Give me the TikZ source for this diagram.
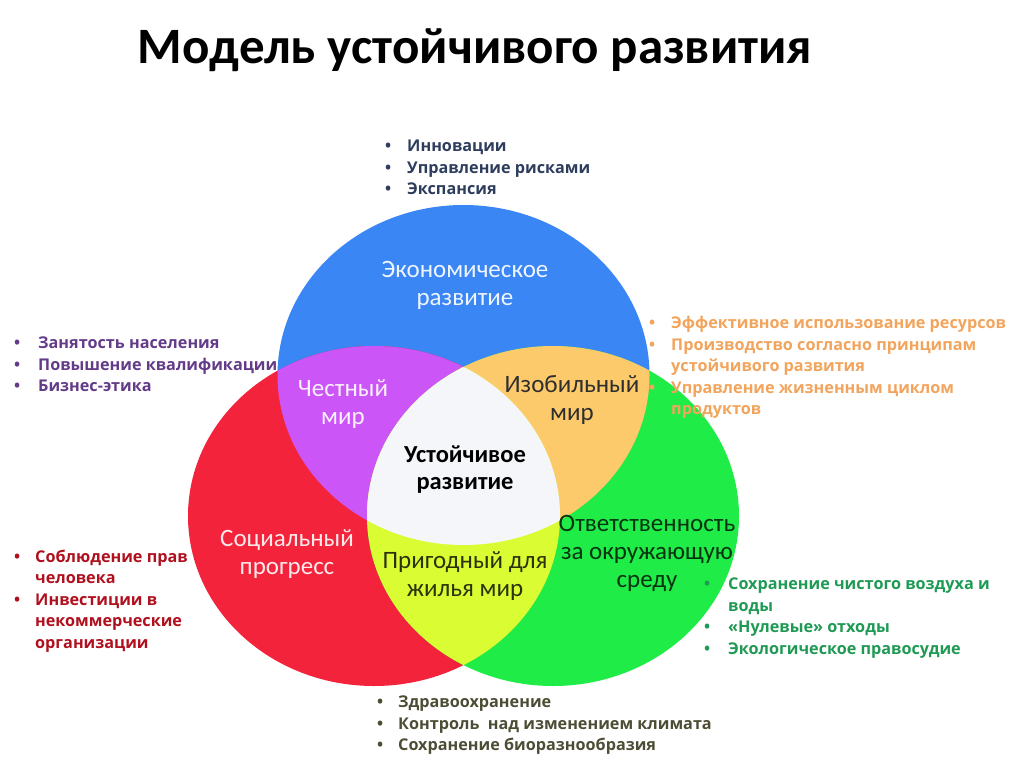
\documentclass[tikz,border=0pt]{standalone}
\usepackage{fontspec}
\setmainfont{Carlito}
\newfontfamily\listfont{Open Sans}
\usepackage{xcolor}
\usepackage{tikz}
\usetikzlibrary{positioning}
\definecolor{ecoBlue}{HTML}{3A86F5}
\definecolor{socRed}{HTML}{F3233B}
\definecolor{envGreen}{HTML}{20EC47}
\definecolor{fairPurple}{HTML}{CB55F6}
\definecolor{richOrange}{HTML}{FCC96B}
\definecolor{liveYellow}{HTML}{DAFC33}
\definecolor{coreWhite}{HTML}{F4F6FA}
\definecolor{txtNavy}{HTML}{2E3D5E}
\definecolor{txtPurple}{HTML}{633B88}
\definecolor{txtOrange}{HTML}{F2A45C}
\definecolor{txtRed}{HTML}{B0101E}
\definecolor{txtGreen}{HTML}{1F9A55}
\definecolor{txtOlive}{HTML}{4D4D36}
\newcommand{\econpath}{(463.5,375) ellipse [x radius=186, y radius=170]}
\newcommand{\socpath}{(374,516) ellipse [x radius=186, y radius=170]}
\newcommand{\envpath}{(553,516) ellipse [x radius=186, y radius=170]}
\newcommand{\bul}[1][22pt]{\makebox[#1][l]{\textbullet}}

\begin{document}
\begin{tikzpicture}[x=1pt,y=-1pt,
    zone/.style={align=center, inner sep=0pt, font=\fontsize{25}{28}\selectfont},
    facts/.style={align=left, anchor=base west, inner sep=0pt,
      font=\listfont\bfseries\fontsize{16.2}{21.5}\selectfont}]
    \useasboundingbox (0,0) rectangle (1024,768);

    % three circles
    \fill[ecoBlue]  \econpath;
    \fill[socRed]   \socpath;
    \fill[envGreen] \envpath;
    % pairwise overlaps
    \begin{scope}
        \clip \socpath;
        \fill[fairPurple] \econpath;
    \end{scope}
    \begin{scope}
        \clip \envpath;
        \fill[richOrange] \econpath;
    \end{scope}
    \begin{scope}
        \clip \socpath;
        \fill[liveYellow] \envpath;
    \end{scope}
    % centre
    \begin{scope}
        \clip \socpath;
        \clip \envpath;
        \fill[coreWhite] \econpath;
    \end{scope}

    \node (title) at (475,50) {\fontsize{51}{56}\selectfont\bfseries Модель устойчивого развития};

    \node[zone, text=white!92!ecoBlue] (econ) at (465,285) {Экономическое\\развитие};
    \node[zone, text=white!92!fairPurple] (fair) at (343,404) {Честный\\мир};
    \node[zone, text=black!82] (rich) at (572,400) {Изобильный\\мир};
    \node[zone, font=\bfseries\fontsize{24.5}{27}\selectfont] (core) at (465,470) {Устойчивое\\развитие};
    \node[zone, text=white!90!socRed] (soc) at (287,554) {Социальный\\прогресс};
    \node[zone, text=black!80!liveYellow] (live) at (465,576) {Пригодный для\\жилья мир};
    \node[zone, text=black!78!envGreen] (env) at (647,553) {Ответственность\\за окружающую\\среду};

    % lists: anchored at the baseline of their last line
    \node[facts, text=txtNavy] (econlist) at (385,194.5)
        {\bul Инновации\\\bul Управление рисками\\\bul Экспансия};
    \node[facts, text=txtPurple] (fairlist) at (14,391.5)
        {\bul[24pt]Занятость населения\\\bul[24pt]Повышение квалификации\\\bul[24pt]Бизнес-этика};
    \node[facts, text=txtOrange] (richlist) at (649,414.5)
        {\bul Эффективное использование ресурсов\\\bul Производство согласно принципам\\\hspace*{22pt}устойчивого развития\\\bul Управление жизненным циклом\\\hspace*{22pt}продуктов};
    \node[facts, text=txtRed] (soclist) at (14,648)
        {\bul[21pt]Соблюдение прав\\\hspace*{21pt}человека\\\bul[21pt]Инвестиции в\\\hspace*{21pt}некоммерческие\\\hspace*{21pt}организации};
    \node[facts, text=txtGreen] (envlist) at (704,654)
        {\bul[24pt]Сохранение чистого воздуха и\\\hspace*{24pt}воды\\\bul[24pt]«Нулевые» отходы\\\bul[24pt]Экологическое правосудие};
    \node[facts, text=txtOlive] (livelist) at (377,750.5)
        {\bul[21pt]Здравоохранение\\\bul[21pt]Контроль~ над изменением климата\\\bul[21pt]Сохранение биоразнообразия};
\end{tikzpicture}
\end{document}
